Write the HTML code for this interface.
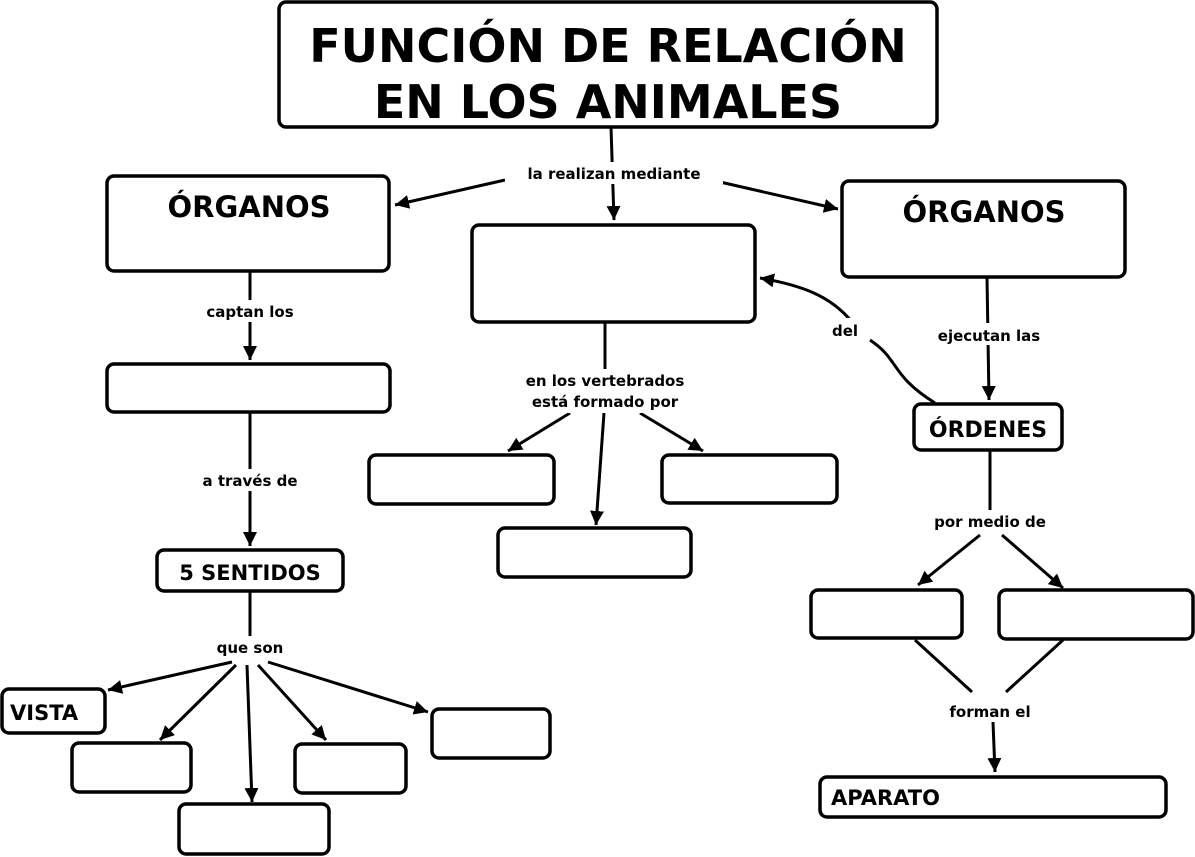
<!DOCTYPE html>
<html><head><meta charset="utf-8"><style>
html,body{margin:0;padding:0;background:#fff;}
svg{display:block}
text{font-family:"DejaVu Sans","Liberation Sans",sans-serif;font-weight:bold;fill:#000}
.b{fill:#fff;stroke:#000;stroke-width:3.5}
.l{stroke:#000;stroke-width:3;fill:none}
.s{font-size:15px}
</style></head><body>
<svg width="1195" height="857" viewBox="0 0 1195 857" xmlns="http://www.w3.org/2000/svg">
<defs><marker id="a" markerWidth="10" markerHeight="10" refX="8" refY="5" orient="auto" markerUnits="userSpaceOnUse" viewBox="0 0 10 10"><path d="M0,0 L10,5 L0,10 z" fill="#000" transform="scale(1.4) translate(-3,-1.4)"/></marker>
<marker id="m" markerWidth="16" markerHeight="16" refX="14" refY="7" orient="auto" markerUnits="userSpaceOnUse"><path d="M0,0 L14,7 L0,14 z" fill="#000"/></marker></defs>

<!-- connectors -->
<g class="l">
<path d="M611,127 L614,220" marker-end="url(#m)"/>
<path d="M505,180 L395,205" marker-end="url(#m)"/>
<path d="M720,182 L838,209" marker-end="url(#m)"/>
<path d="M250,272 L250,360" marker-end="url(#m)"/>
<path d="M250,412 L250,546" marker-end="url(#m)"/>
<path d="M250,591 L250,640"/>
<path d="M232,662 L108,690" marker-end="url(#m)"/>
<path d="M236,665 L160,740" marker-end="url(#m)"/>
<path d="M247,665 L252,802" marker-end="url(#m)"/>
<path d="M258,665 L326,740" marker-end="url(#m)"/>
<path d="M268,662 L428,712" marker-end="url(#m)"/>
<path d="M605,322 L605,370"/>
<path d="M570,413 L508,451" marker-end="url(#m)"/>
<path d="M604,413 L596,525" marker-end="url(#m)"/>
<path d="M640,413 L703,451" marker-end="url(#m)"/>
<path d="M987,277 L989,400" marker-end="url(#m)"/>
<path d="M935,403 C890,375 900,360 870,340 M852,322 C830,295 800,285 760,278" marker-end="url(#m)"/>
<path d="M990,450 L990,510"/>
<path d="M980,535 L918,585" marker-end="url(#m)"/>
<path d="M1002,535 L1063,588" marker-end="url(#m)"/>
<path d="M915,640 L972,692"/>
<path d="M1063,640 L1006,692"/>
<path d="M993,722 L995,772" marker-end="url(#m)"/>
</g>
<!-- label backgrounds -->
<g fill="#fff">
<rect x="505" y="162" width="218" height="22"/>
<rect x="190" y="300" width="120" height="22"/>
<rect x="188" y="469" width="124" height="22"/>
<rect x="205" y="636" width="90" height="22"/>
<rect x="505" y="369" width="200" height="44"/>
<rect x="922" y="323" width="134" height="22"/>
<rect x="922" y="510" width="136" height="22"/>
<rect x="936" y="699" width="112" height="22"/>
<rect x="826" y="318" width="40" height="24"/>
</g>
<!-- boxes -->
<rect class="b" x="279" y="2" width="658" height="125" rx="7"/>
<rect class="b" x="107" y="176" width="282" height="95" rx="7"/>
<rect class="b" x="472" y="225" width="283" height="97" rx="7"/>
<rect class="b" x="842" y="181" width="283" height="96" rx="7"/>
<rect class="b" x="107" y="364" width="283" height="48" rx="7"/>
<rect class="b" x="157" y="550" width="186" height="41" rx="7"/>
<rect class="b" x="2" y="689" width="103" height="44" rx="7"/>
<rect class="b" x="72" y="743" width="119" height="49" rx="7"/>
<rect class="b" x="179" y="804" width="150" height="50" rx="7"/>
<rect class="b" x="295" y="744" width="111" height="49" rx="7"/>
<rect class="b" x="432" y="709" width="118" height="49" rx="7"/>
<rect class="b" x="369" y="455" width="185" height="49" rx="7"/>
<rect class="b" x="662" y="455" width="175" height="48" rx="7"/>
<rect class="b" x="498" y="528" width="193" height="49" rx="7"/>
<rect class="b" x="914" y="404" width="148" height="46" rx="7"/>
<rect class="b" x="811" y="590" width="151" height="48" rx="7"/>
<rect class="b" x="999" y="590" width="194" height="49" rx="7"/>
<rect class="b" x="820" y="777" width="346" height="40" rx="7"/>
<!-- texts -->
<g text-anchor="middle">
<text x="608" y="62" font-size="46">FUNCIÓN DE RELACIÓN</text>
<text x="608" y="118" font-size="46">EN LOS ANIMALES</text>
<text x="249" y="217" font-size="29">ÓRGANOS</text>
<text x="984" y="222" font-size="29">ÓRGANOS</text>
<text x="988" y="437" font-size="22">ÓRDENES</text>
<text x="250" y="580" font-size="21">5 SENTIDOS</text>
<text x="614" y="179" class="s">la realizan mediante</text>
<text x="250" y="317" class="s">captan los</text>
<text x="250" y="486" class="s">a través de</text>
<text x="250" y="653" class="s">que son</text>
<text x="605" y="386" class="s">en los vertebrados</text>
<text x="605" y="407" class="s">está formado por</text>
<text x="989" y="341" class="s">ejecutan las</text>
<text x="845" y="336" class="s">del</text>
<text x="990" y="527" class="s">por medio de</text>
<text x="990" y="717" class="s">forman el</text>
</g>
<text x="10" y="720" font-size="21">VISTA</text>
<text x="831" y="805" font-size="21">APARATO</text>
</svg>
</body></html>
